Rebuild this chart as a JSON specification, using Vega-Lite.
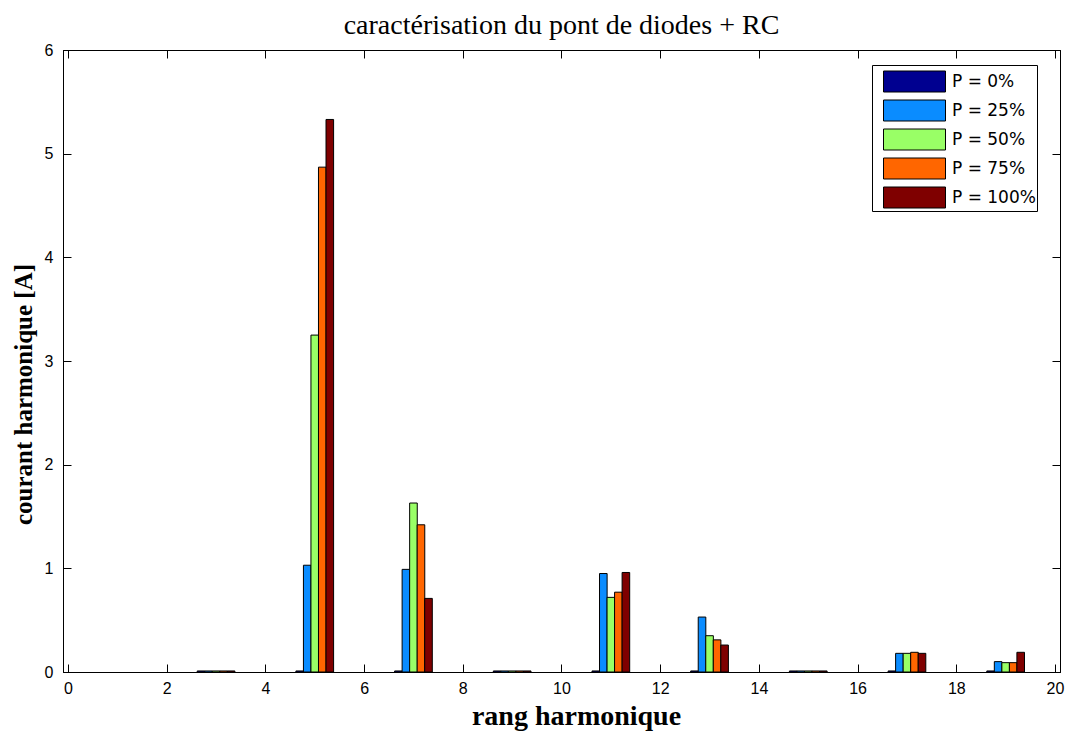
{
  "$schema": "https://vega.github.io/schema/vega-lite/v6.json",
  "autosize": {"type": "none"},
  "padding": {"left": 63, "top": 50, "right": 10, "bottom": 61},
  "width": 997,
  "height": 622,
  "background": "white",
  "title": {"text": "caractérisation du pont de diodes + RC", "font": "Liberation Serif", "fontSize": 28, "fontWeight": "normal", "color": "black", "offset": 2},
  "config": {"view": {"stroke": "black", "strokeWidth": 1}},
  "data": {"values": [
    {"h": 3, "P": "P = 0%", "I": 0.01}, {"h": 3, "P": "P = 25%", "I": 0.01}, {"h": 3, "P": "P = 50%", "I": 0.01}, {"h": 3, "P": "P = 75%", "I": 0.01}, {"h": 3, "P": "P = 100%", "I": 0.01},
    {"h": 5, "P": "P = 0%", "I": 0.01}, {"h": 5, "P": "P = 25%", "I": 1.03}, {"h": 5, "P": "P = 50%", "I": 3.25}, {"h": 5, "P": "P = 75%", "I": 4.87}, {"h": 5, "P": "P = 100%", "I": 5.33},
    {"h": 7, "P": "P = 0%", "I": 0.01}, {"h": 7, "P": "P = 25%", "I": 0.99}, {"h": 7, "P": "P = 50%", "I": 1.63}, {"h": 7, "P": "P = 75%", "I": 1.42}, {"h": 7, "P": "P = 100%", "I": 0.71},
    {"h": 9, "P": "P = 0%", "I": 0.01}, {"h": 9, "P": "P = 25%", "I": 0.01}, {"h": 9, "P": "P = 50%", "I": 0.01}, {"h": 9, "P": "P = 75%", "I": 0.01}, {"h": 9, "P": "P = 100%", "I": 0.01},
    {"h": 11, "P": "P = 0%", "I": 0.01}, {"h": 11, "P": "P = 25%", "I": 0.95}, {"h": 11, "P": "P = 50%", "I": 0.72}, {"h": 11, "P": "P = 75%", "I": 0.77}, {"h": 11, "P": "P = 100%", "I": 0.96},
    {"h": 13, "P": "P = 0%", "I": 0.01}, {"h": 13, "P": "P = 25%", "I": 0.53}, {"h": 13, "P": "P = 50%", "I": 0.35}, {"h": 13, "P": "P = 75%", "I": 0.31}, {"h": 13, "P": "P = 100%", "I": 0.26},
    {"h": 15, "P": "P = 0%", "I": 0.01}, {"h": 15, "P": "P = 25%", "I": 0.01}, {"h": 15, "P": "P = 50%", "I": 0.01}, {"h": 15, "P": "P = 75%", "I": 0.01}, {"h": 15, "P": "P = 100%", "I": 0.01},
    {"h": 17, "P": "P = 0%", "I": 0.01}, {"h": 17, "P": "P = 25%", "I": 0.18}, {"h": 17, "P": "P = 50%", "I": 0.18}, {"h": 17, "P": "P = 75%", "I": 0.19}, {"h": 17, "P": "P = 100%", "I": 0.18},
    {"h": 19, "P": "P = 0%", "I": 0.01}, {"h": 19, "P": "P = 25%", "I": 0.10}, {"h": 19, "P": "P = 50%", "I": 0.09}, {"h": 19, "P": "P = 75%", "I": 0.09}, {"h": 19, "P": "P = 100%", "I": 0.19}
  ]},
  "transform": [
    {"calculate": "datum.h + (indexof(['P = 0%','P = 25%','P = 50%','P = 75%','P = 100%'], datum.P) - 2) * 0.1525", "as": "xpos"}
  ],
  "layer": [
    {
      "mark": {"type": "bar", "width": 7.6, "stroke": "black", "strokeWidth": 1, "opacity": 1},
      "encoding": {
        "x": {"field": "xpos", "type": "quantitative", "scale": {"domain": [0, 20], "nice": false, "zero": false},
          "axis": {"title": "rang harmonique", "titleFont": "Liberation Serif", "titleFontSize": 28, "titleFontWeight": "bold", "titleColor": "black", "titlePadding": 6, "titleX": 513,
            "values": [0, 2, 4, 6, 8, 10, 12, 14, 16, 18, 20], "labelFont": "Liberation Sans", "labelFontSize": 16, "labelColor": "black",
            "tickSize": -8, "tickColor": "black", "domainColor": "black", "grid": false, "labelPadding": 16, "labelFlush": false}},
        "y": {"field": "I", "type": "quantitative", "stack": null, "scale": {"domain": [0, 6], "nice": false},
          "axis": {"title": "courant harmonique [A]", "titleFont": "Liberation Serif", "titleFontSize": 25, "titleFontWeight": "bold", "titleColor": "black", "titlePadding": 8, "titleY": 344,
            "values": [0, 1, 2, 3, 4, 5, 6], "labelFont": "Liberation Sans", "labelFontSize": 16, "labelColor": "black",
            "tickSize": -8, "tickColor": "black", "domainColor": "black", "grid": false, "labelPadding": 18, "labelFlush": false}},
        "fill": {"field": "P", "type": "nominal",
          "scale": {"domain": ["P = 0%", "P = 25%", "P = 50%", "P = 75%", "P = 100%"], "range": ["#000090", "#0A8CFF", "#99FF66", "#FF6600", "#7F0000"]},
          "legend": {"title": null, "orient": "none", "legendX": 809, "legendY": 15, "direction": "vertical",
            "symbolType": "M-0.333,-0.7L3.8,-0.7L3.8,0.7L-0.333,0.7Z", "symbolSize": 900, "symbolStrokeColor": "black", "symbolStrokeWidth": 1,
            "labelFont": "DejaVu Sans", "labelFontSize": 17, "labelColor": "black", "rowPadding": 1, "labelOffset": 48,
            "labelExpr": "datum.label + '\u00a0\u00a0\u00a0\u00a0\u00a0'",
            "strokeColor": "black", "fillColor": "white", "padding": 1}}
      }
    },
    {
      "mark": {"type": "bar", "width": 7.6, "opacity": 0},
      "encoding": {
        "x": {"field": "xpos", "type": "quantitative", "scale": {"domain": [0, 20], "nice": false, "zero": false},
          "axis": {"orient": "top", "title": null, "labels": false, "values": [0, 2, 4, 6, 8, 10, 12, 14, 16, 18, 20], "tickSize": -8, "tickColor": "black", "domainColor": "black", "grid": false}},
        "y": {"field": "I", "type": "quantitative", "stack": null, "scale": {"domain": [0, 6], "nice": false},
          "axis": {"orient": "right", "title": null, "labels": false, "values": [0, 1, 2, 3, 4, 5, 6], "tickSize": -8, "tickColor": "black", "domainColor": "black", "grid": false}}
      }
    }
  ],
  "resolve": {"scale": {"x": "independent", "y": "independent"}}
}
